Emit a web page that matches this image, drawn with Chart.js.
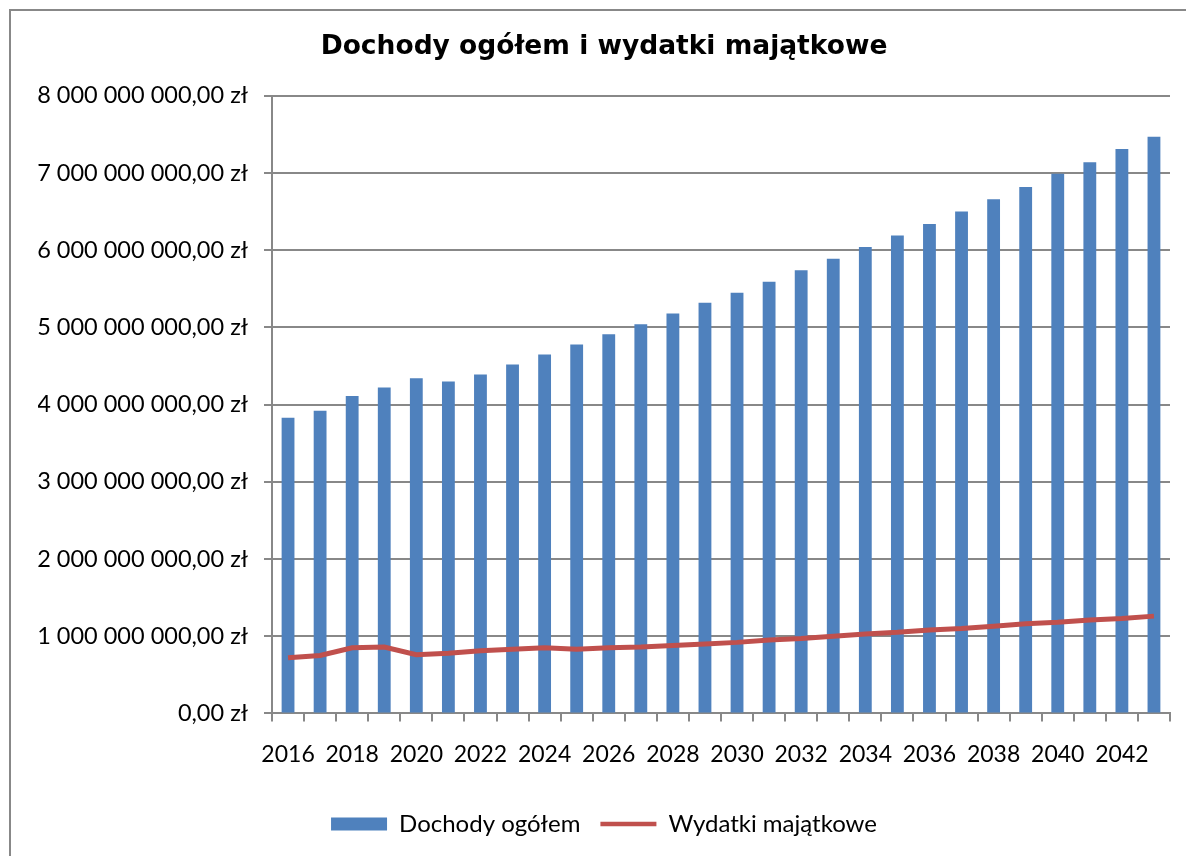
<!DOCTYPE html>
<html>
<head>
<meta charset="utf-8">
<script src="https://cdn.jsdelivr.net/npm/chart.js@4"></script>
<style>
  html, body { margin: 0; padding: 0; background: #fff; overflow: hidden; }
  #wrap { position: relative; width: 1186px; height: 856px; }
  #frame { position: absolute; left: 9px; top: 9px; width: 1300px; height: 1000px; border: 2px solid #888888; }
  #chart { position: absolute; left: 0; top: 0; }
</style>
</head>
<body>
<div id="wrap">
  <div id="frame"></div>
  <canvas id="chart" width="1186" height="856"></canvas>
</div>
<script>
// categories
const years = ["2016", "2017", "2018", "2019", "2020", "2021", "2022", "2023", "2024", "2025",
    "2026", "2027", "2028", "2029", "2030", "2031", "2032", "2033", "2034", "2035",
    "2036", "2037", "2038", "2039", "2040", "2041", "2042", "2043"];

// Dochody ogółem (zł)
const dochody = [3830000000, 3920000000, 4110000000, 4220000000, 4340000000, 4300000000, 4390000000,
    4520000000, 4650000000, 4780000000, 4910000000, 5040000000, 5180000000, 5320000000,
    5450000000, 5590000000, 5740000000, 5890000000, 6040000000, 6190000000, 6340000000,
    6500000000, 6660000000, 6820000000, 6990000000, 7140000000, 7310000000, 7470000000];

// Wydatki majątkowe (zł)
const wydatki = [720000000, 750000000, 850000000, 860000000, 760000000, 780000000, 810000000,
    830000000, 850000000, 830000000, 850000000, 860000000, 880000000, 900000000,
    920000000, 950000000, 970000000, 1000000000, 1030000000, 1050000000, 1080000000,
    1100000000, 1130000000, 1160000000, 1180000000, 1210000000, 1230000000, 1260000000];

const yMin = 0;
const yMax = 8000000000;
const yStep = 1000000000;

const blue = "#4F81BD";
const red = "#C0504D";
const gridColor = "#888888";

function formatZl(v) {
    const parts = v.toFixed(2).split(".");
    const intPart = parts[0].replace(/\B(?=(\d{3})+(?!\d))/g, " ");
    return intPart + "," + parts[1] + " zł";
}

Chart.defaults.font.family = "Lato, 'Open Sans', sans-serif";
Chart.defaults.color = "#000";

const ctx = document.getElementById("chart").getContext("2d");

const chart = new Chart(ctx, {
    type: "bar",
    data: {
        labels: years,
        datasets: [
            {
                type: "bar",
                label: "Dochody ogółem",
                data: dochody,
                backgroundColor: blue,
                borderWidth: 0,
                categoryPercentage: 1,
                barPercentage: 0.4,
                order: 2
            },
            {
                type: "line",
                label: "Wydatki majątkowe",
                data: wydatki,
                borderColor: red,
                backgroundColor: red,
                borderWidth: 5,
                pointRadius: 0,
                tension: 0,
                fill: false,
                order: 1
            }
        ]
    },
    options: {
        responsive: false,
        animation: false,
        layout: {
            padding: { left: 38, right: 16, top: 0, bottom: 10 }
        },
        plugins: {
            title: {
                display: true,
                text: "Dochody ogółem i wydatki majątkowe",
                font: { family: "'DejaVu Sans'", size: 26.5, weight: "bold" },
                color: "#000",
                padding: { top: 31, bottom: 33 }
            },
            legend: {
                position: "bottom",
                labels: {
                    font: { size: 24 },
                    color: "#000",
                    usePointStyle: true,
                    pointStyleWidth: 56,
                    boxHeight: 13,
                    padding: 20,
                    sort: (a, b) => a.datasetIndex - b.datasetIndex,
                    generateLabels(chart) {
                        const items = Chart.defaults.plugins.legend.labels.generateLabels(chart);
                        items.forEach(item => {
                            if (item.datasetIndex === 0) {
                                item.pointStyle = "rect";
                                item.lineWidth = 0;
                                item.fillStyle = blue;
                            } else {
                                item.pointStyle = "line";
                                item.lineWidth = 4.5;
                                item.strokeStyle = red;
                            }
                        });
                        return items;
                    }
                }
            },
            tooltip: { enabled: false }
        },
        scales: {
            x: {
                offset: true,
                afterFit: scale => { scale.height = scale.height + 5; },
                grid: {
                    offset: true,
                    drawOnChartArea: false,
                    drawTicks: true,
                    tickLength: 8,
                    color: gridColor,
                    lineWidth: 2
                },
                border: { color: gridColor, width: 2 },
                ticks: {
                    autoSkip: false,
                    maxRotation: 0,
                    padding: 19,
                    font: { size: 23 },
                    callback: function (value, index) {
                        return index % 2 === 0 ? this.getLabelForValue(value) : "";
                    }
                }
            },
            y: {
                min: yMin,
                max: yMax,
                afterFit: scale => { scale.width = 234; },
                grid: {
                    color: gridColor,
                    lineWidth: 2,
                    tickLength: 8
                },
                border: { color: gridColor, width: 2 },
                ticks: {
                    stepSize: yStep,
                    padding: 16,
                    font: { size: 23.5 },
                    callback: value => formatZl(value)
                }
            }
        }
    }
});
</script>
</body>
</html>
